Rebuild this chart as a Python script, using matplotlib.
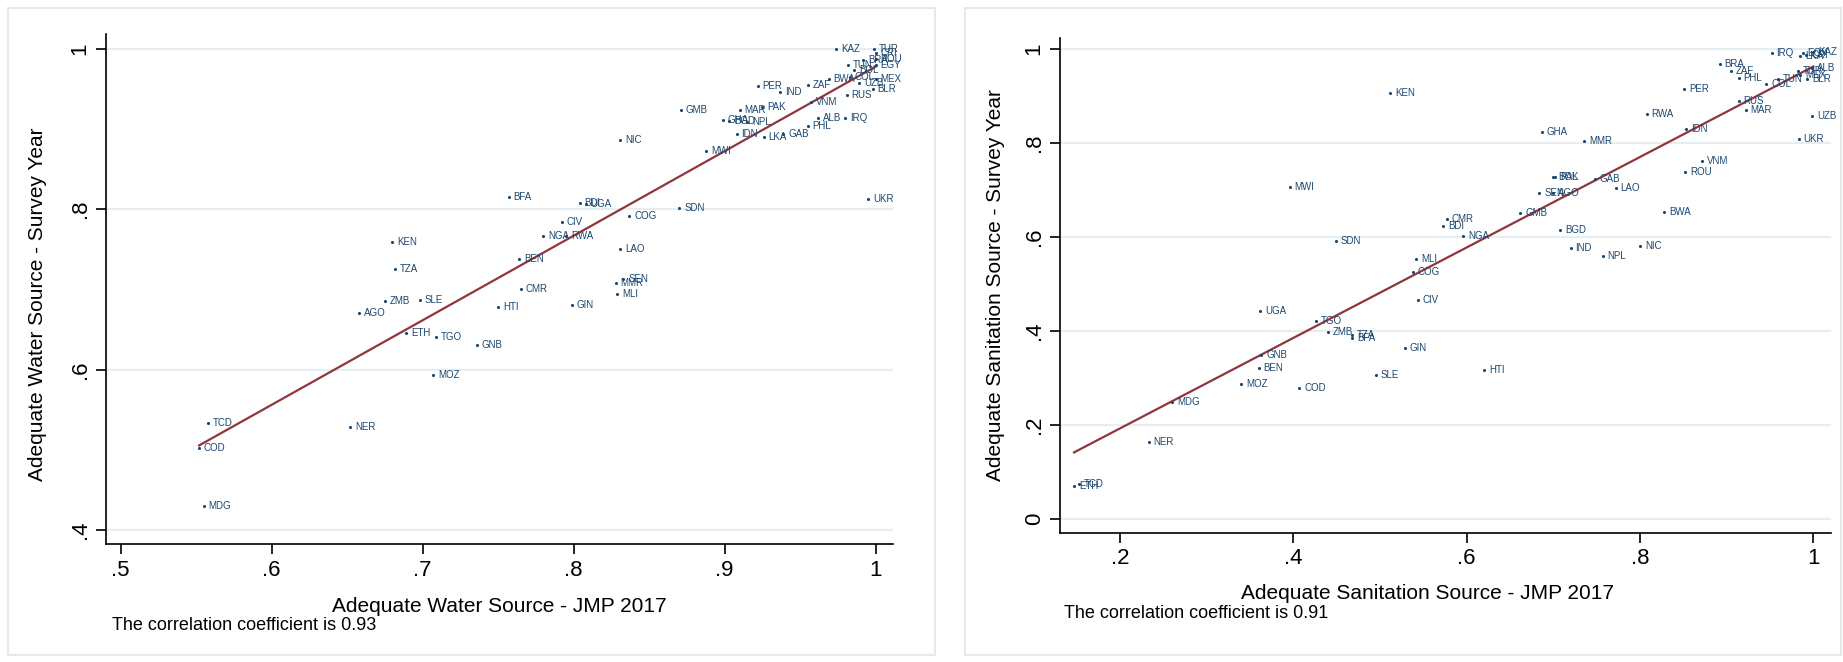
import numpy as np
import matplotlib
matplotlib.use("Agg")
import matplotlib.pyplot as plt
from matplotlib.patches import Rectangle
from matplotlib.ticker import FuncFormatter

plt.rcParams["font.family"] = ["Liberation Sans", "DejaVu Sans"]

NAVY = "#1a476f"
MAROON = "#90353b"
GRID = "#e6eef1"
FRAME = "#e3e9ec"

# water: JMP 2017 (x) against survey year (y)
water_iso = ["KAZ", "TUR", "CRI", "BRA", "ROU", "TUN", "BOL", "EGY", "BWA", "COL",
             "MEX", "UZB", "BLR", "RUS", "PER", "IND", "ZAF", "VNM", "GMB", "MAR",
             "PAK", "GHA", "BGD", "NPL", "IDN", "LKA", "GAB", "PHL", "ALB", "IRQ",
             "UKR", "NIC", "MWI", "BFA", "BDI", "UGA", "SDN", "COG", "CIV", "NGA",
             "RWA", "LAO", "BEN", "CMR", "SEN", "MMR", "MLI", "KEN", "TZA", "ZMB",
             "SLE", "AGO", "ETH", "TGO", "GNB", "MOZ", "HTI", "GIN", "TCD", "COD",
             "MDG", "NER"]
water_jmp = [0.974, 0.999, 1.000, 0.992, 1.000, 0.982, 0.986, 1.000, 0.969, 0.983,
             1.000, 0.989, 0.998, 0.981, 0.922, 0.937, 0.955, 0.957, 0.871, 0.910,
             0.925, 0.899, 0.903, 0.915, 0.908, 0.926, 0.939, 0.955, 0.962, 0.980,
             0.995, 0.831, 0.888, 0.757, 0.804, 0.808, 0.870, 0.837, 0.792, 0.780,
             0.795, 0.831, 0.764, 0.765, 0.833, 0.828, 0.829, 0.680, 0.682, 0.675,
             0.698, 0.658, 0.689, 0.709, 0.736, 0.707, 0.750, 0.799, 0.558, 0.552,
             0.555, 0.652]
water_svy = [1.000, 0.999, 0.995, 0.986, 0.987, 0.980, 0.973, 0.980, 0.962, 0.964,
             0.962, 0.957, 0.949, 0.942, 0.953, 0.946, 0.955, 0.934, 0.924, 0.923,
             0.927, 0.911, 0.910, 0.909, 0.894, 0.890, 0.894, 0.903, 0.913, 0.914,
             0.813, 0.886, 0.872, 0.815, 0.808, 0.806, 0.801, 0.791, 0.784, 0.766,
             0.766, 0.750, 0.738, 0.700, 0.713, 0.708, 0.694, 0.759, 0.725, 0.686,
             0.687, 0.670, 0.646, 0.640, 0.630, 0.593, 0.678, 0.680, 0.533, 0.502,
             0.430, 0.528]

# sanitation: JMP 2017 (x) against survey year (y)
san_iso = ["KEN", "GHA", "MMR", "MWI", "RWA", "PER", "IDN", "BRA", "ZAF", "PHL",
           "IRQ", "LKA", "EGY", "CRI", "KAZ", "ALB", "TUR", "TUN", "MEX", "BLR",
           "COL", "RUS", "MAR", "UZB", "UKR", "VNM", "ROU", "GAB", "LAO", "BWA",
           "BOL", "PAK", "SEN", "AGO", "GMB", "CMR", "BDI", "NGA", "BGD", "IND",
           "NPL", "NIC", "SDN", "MLI", "COG", "CIV", "UGA", "TGO", "ZMB", "TZA",
           "BFA", "GIN", "GNB", "BEN", "SLE", "HTI", "MOZ", "COD", "MDG", "NER",
           "ETH", "TCD"]
san_jmp = [0.512, 0.687, 0.736, 0.396, 0.808, 0.851, 0.853, 0.892, 0.905, 0.914,
           0.952, 0.985, 0.988, 0.992, 1.000, 0.999, 0.982, 0.959, 0.985, 0.993,
           0.946, 0.914, 0.922, 0.999, 0.983, 0.872, 0.852, 0.748, 0.772, 0.828,
           0.700, 0.702, 0.684, 0.700, 0.662, 0.577, 0.573, 0.596, 0.708, 0.720,
           0.757, 0.800, 0.449, 0.542, 0.538, 0.544, 0.362, 0.426, 0.440, 0.468,
           0.468, 0.529, 0.363, 0.360, 0.495, 0.620, 0.340, 0.407, 0.260, 0.233,
           0.147, 0.153]
san_svy = [0.906, 0.823, 0.803, 0.706, 0.862, 0.914, 0.830, 0.968, 0.953, 0.938,
           0.992, 0.985, 0.991, 0.987, 0.993, 0.960, 0.952, 0.936, 0.945, 0.936,
           0.926, 0.889, 0.870, 0.857, 0.809, 0.762, 0.738, 0.723, 0.704, 0.652,
           0.728, 0.727, 0.694, 0.693, 0.650, 0.639, 0.623, 0.602, 0.615, 0.576,
           0.560, 0.580, 0.591, 0.553, 0.525, 0.466, 0.443, 0.421, 0.397, 0.392,
           0.385, 0.364, 0.348, 0.322, 0.306, 0.316, 0.287, 0.279, 0.248, 0.164,
           0.071, 0.075]

water_xticks = [0.5, 0.6, 0.7, 0.8, 0.9, 1.0]
water_yticks = [0.4, 0.6, 0.8, 1.0]
san_xticks = [0.2, 0.4, 0.6, 0.8, 1.0]
san_yticks = [0.0, 0.2, 0.4, 0.6, 0.8, 1.0]


def stata_fmt(v, _pos=None):
    s = f"{v:g}"
    return s[1:] if s.startswith("0.") else s


def scatter_panel(ax, iso, x, y, xticks, yticks, xlabel, ylabel):
    x = np.asarray(x)
    y = np.asarray(y)
    ax.scatter(x, y, s=5, color=NAVY, zorder=3, linewidths=0)
    for name, xi, yi in zip(iso, x, y):
        ax.annotate(name, (xi, yi), xytext=(3.5, 0), textcoords="offset points",
                    va="center", ha="left", fontsize=7, color=NAVY, zorder=4)
    # linear fit over the observed range
    b, a = np.polyfit(x, y, 1)
    xs = np.array([x.min(), x.max()])
    ax.plot(xs, a + b * xs, color=MAROON, lw=1.6, zorder=2)

    ax.set_xticks(xticks)
    ax.set_yticks(yticks)
    ax.xaxis.set_major_formatter(FuncFormatter(stata_fmt))
    ax.yaxis.set_major_formatter(FuncFormatter(stata_fmt))
    ax.grid(axis="y", color=GRID, lw=1.6, zorder=0)
    ax.set_axisbelow(True)
    for side in ("top", "right"):
        ax.spines[side].set_visible(False)
    for side in ("left", "bottom"):
        ax.spines[side].set_linewidth(1.2)
    ax.tick_params(direction="out", length=7, width=1.2, labelsize=16, pad=4)
    plt.setp(ax.get_yticklabels(), rotation=90, va="center")
    ax.set_xlabel(xlabel, fontsize=15)
    ax.set_ylabel(ylabel, fontsize=15)


fig = plt.figure(figsize=(18.43, 6.62), dpi=100)

# panel frames
fig.patches.append(Rectangle((8 / 1843, 1 - 655 / 662), 927 / 1843, 647 / 662,
                             transform=fig.transFigure, fill=False, ec=FRAME, lw=1.5))
fig.patches.append(Rectangle((965 / 1843, 1 - 655 / 662), 876 / 1843, 647 / 662,
                             transform=fig.transFigure, fill=False, ec=FRAME, lw=1.5))

ax1 = fig.add_axes([0.0575, 0.1775, 0.427, 0.771])
scatter_panel(ax1, water_iso, water_jmp, water_svy, water_xticks, water_yticks,
              "Adequate Water Source - JMP 2017", "Adequate Water Source - Survey Year")
ax1.set_xlim(0.4903, 1.0115)
ax1.set_ylim(0.382, 1.018)
ax1.xaxis.set_label_coords(0.5, -0.103)
ax1.yaxis.set_label_coords(-0.075, 0.47)

ax2 = fig.add_axes([0.5751, 0.1953, 0.4183, 0.748])
scatter_panel(ax2, san_iso, san_jmp, san_svy, san_xticks, san_yticks,
              "Adequate Sanitation Source - JMP 2017", "Adequate Sanitation Source - Survey Year")
ax2.set_xlim(0.1307, 1.0203)
ax2.set_ylim(-0.029, 1.024)
ax2.xaxis.set_label_coords(0.477, -0.104)
ax2.yaxis.set_label_coords(-0.071, 0.5)

fig.text(112 / 1843, 1 - 626 / 662, "The correlation coefficient is 0.93",
         fontsize=13, va="center", ha="left")
fig.text(1064 / 1843, 1 - 613 / 662, "The correlation coefficient is 0.91",
         fontsize=13, va="center", ha="left")

fig.savefig("out.png", dpi=100)
